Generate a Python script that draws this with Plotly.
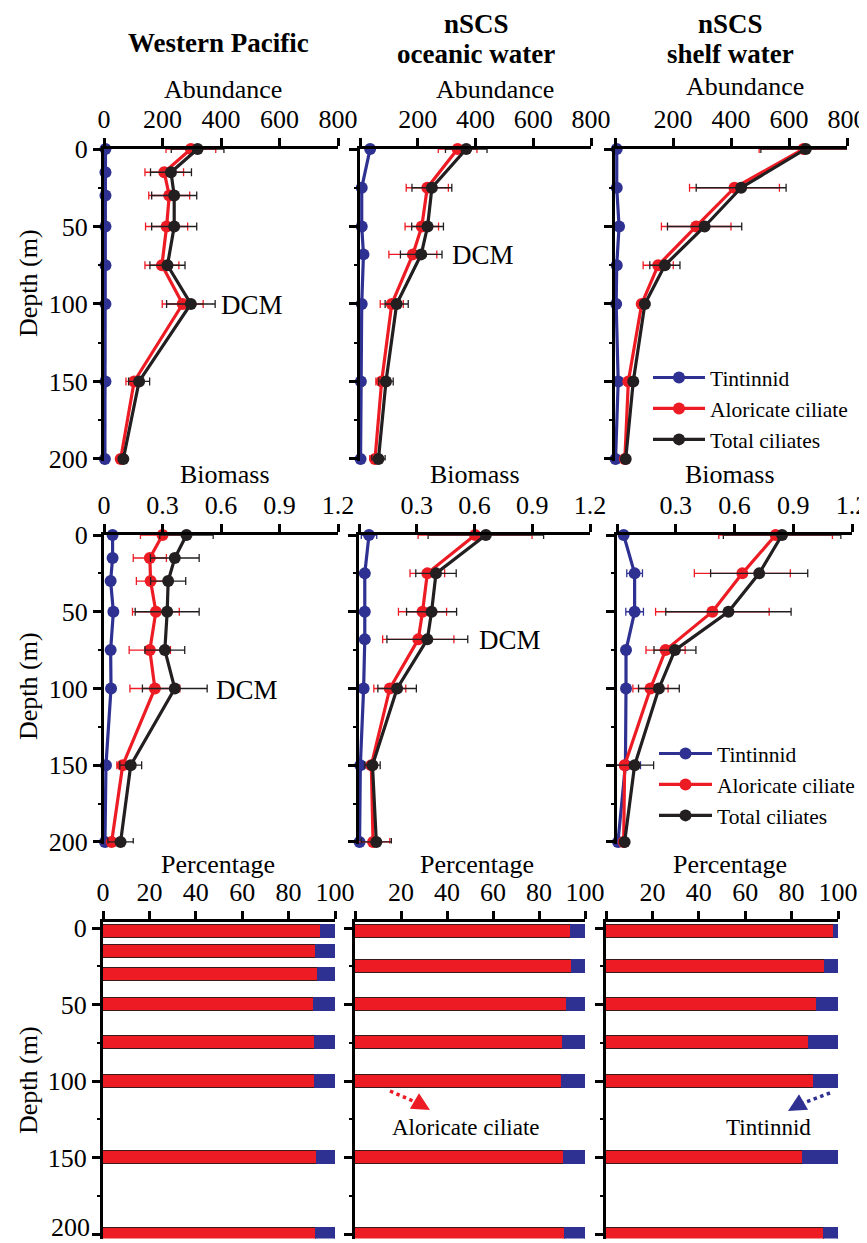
import plotly.graph_objects as go
from plotly.subplots import make_subplots

SCREEN_W, SCREEN_H = 867, 1243
OFF = 8  # default page body margin
W, H = SCREEN_W - OFF, SCREEN_H - OFF

# ---------------- data ----------------
depth_wp = [0, 15, 30, 50, 75, 100, 150, 200]
depth_oc = [0, 25, 50, 68, 100, 150, 200]
depth_sh = [0, 25, 50, 75, 100, 150, 200]

# Abundance
tin_ab_wp = [5, 5, 5, 5, 5, 5, 5, 3]
alo_ab_wp = [297, 206, 223, 214, 198, 269, 103, 57]
tot_ab_wp = [320, 229, 240, 240, 217, 297, 120, 66]
alo_ab_wp_err = [85, 66, 70, 72, 58, 70, 28, 8]
tot_ab_wp_err = [90, 70, 77, 77, 60, 83, 36, 10]

tin_ab_oc = [35, 6, 6, 12, 6, 3, 2]
alo_ab_oc = [338, 233, 214, 183, 110, 75, 52]
tot_ab_oc = [368, 249, 234, 212, 127, 90, 64]
alo_ab_oc_err = [67, 73, 58, 83, 40, 20, 18]
tot_ab_oc_err = [72, 69, 55, 72, 40, 25, 23]

tin_ab_sh = [6, 6, 14, 6, 4, 11, 2]
alo_ab_sh = [650, 412, 280, 149, 92, 46, 34]
tot_ab_sh = [658, 435, 309, 172, 103, 63, 37]
alo_ab_sh_err = [153, 155, 120, 52, 8, 10, 5]
tot_ab_sh_err = [155, 155, 128, 52, 10, 12, 5]

# Biomass
tin_bm_wp = [0.044, 0.044, 0.034, 0.048, 0.034, 0.036, 0.010, 0.005]
tin_bm_wp_err = [0.02, 0.02, 0.01, 0.02, 0.01, 0.015, 0.005, 0.01]
alo_bm_wp = [0.300, 0.235, 0.239, 0.266, 0.235, 0.261, 0.096, 0.039]
alo_bm_wp_err = [0.113, 0.085, 0.073, 0.120, 0.106, 0.128, 0.030, 0.010]
tot_bm_wp = [0.423, 0.363, 0.329, 0.324, 0.312, 0.363, 0.137, 0.085]
tot_bm_wp_err = [0.137, 0.125, 0.090, 0.164, 0.102, 0.166, 0.056, 0.065]

tin_bm_oc = [0.052, 0.030, 0.030, 0.030, 0.024, 0.007, 0.003]
tin_bm_oc_err = [0.04, 0.01, 0.01, 0.01, 0.015, 0.01, 0.005]
alo_bm_oc = [0.603, 0.355, 0.330, 0.308, 0.160, 0.064, 0.073]
alo_bm_oc_err = [0.296, 0.090, 0.125, 0.185, 0.083, 0.020, 0.087]
tot_bm_oc = [0.659, 0.400, 0.377, 0.355, 0.198, 0.070, 0.090]
tot_bm_oc_err = [0.300, 0.105, 0.130, 0.210, 0.100, 0.040, 0.078]

tin_bm_sh = [0.034, 0.090, 0.090, 0.046, 0.046, 0.043, 0.005]
tin_bm_sh_err = [0.005, 0.040, 0.045, 0.010, 0.010, 0.077, 0.010]
alo_bm_sh = [0.810, 0.640, 0.487, 0.248, 0.171, 0.039, 0.034]
alo_bm_sh_err = [0.290, 0.245, 0.290, 0.100, 0.090, 0.020, 0.010]
tot_bm_sh = [0.843, 0.726, 0.569, 0.296, 0.214, 0.090, 0.039]
tot_bm_sh_err = [0.300, 0.248, 0.320, 0.107, 0.104, 0.097, 0.010]

# Percentage
pct_depth_wp = [2.5, 15, 30, 50, 75, 100, 150, 200]
pct_depth_oc = [2.5, 25, 50, 75, 100, 150, 200]
pct_depth_sh = [2.5, 25, 50, 75, 100, 150, 200]
alo_pct_wp = [93.8, 91.8, 92.8, 91.0, 91.2, 91.4, 92.1, 91.8]
tin_pct_wp = [6.2, 8.2, 7.2, 9.0, 8.8, 8.6, 7.9, 8.2]
alo_pct_oc = [94.0, 94.4, 92.3, 90.6, 90.1, 91.0, 91.4]
tin_pct_oc = [6.0, 5.6, 7.7, 9.4, 9.9, 9.0, 8.6]
alo_pct_sh = [98.3, 94.5, 91.0, 87.4, 89.5, 84.9, 94.1]
tin_pct_sh = [1.7, 5.5, 9.0, 12.6, 10.5, 15.1, 5.9]

col_title_lines = [["Western Pacific"], ["nSCS", "oceanic water"], ["nSCS", "shelf water"]]
row_titles = ["Abundance", "Biomass", "Percentage"]
series_names = ["Tintinnid", "Aloricate ciliate", "Total ciliates"]
depth_ticks = [0, 50, 100, 150, 200]
depth_ticktext = ["0", "50", "100", "150", "200"]

BLUE = "#2E3192"
RED = "#ED1C24"
BLACK = "#231F20"
FONT = "Liberation Serif, Times New Roman, serif"

def px(x):
    return (x - OFF) / W

def py(y):
    return 1 - (y - OFF) / H

fig = make_subplots(rows=3, cols=3)

def add_profile(row, col, depth, tin, alo, tot, alo_err, tot_err, tin_err=None, legend=None):
    specs = [
        (series_names[0], tin, tin_err, BLUE),
        (series_names[1], alo, alo_err, RED),
        (series_names[2], tot, tot_err, BLACK),
    ]
    for name, vals, err, color in specs:
        tr = go.Scatter(
            x=vals, y=depth, mode="lines+markers", name=name,
            line=dict(color=color, width=3.2),
            marker=dict(color=color, size=12),
            cliponaxis=False,
            showlegend=legend is not None,
        )
        if legend is not None:
            tr.legend = legend
        if err is not None:
            tr.error_x = dict(type="data", array=err, visible=True, color=color,
                              thickness=1.3, width=4)
        fig.add_trace(tr, row=row, col=col)

add_profile(1, 1, depth_wp, tin_ab_wp, alo_ab_wp, tot_ab_wp, alo_ab_wp_err, tot_ab_wp_err)
add_profile(1, 2, depth_oc, tin_ab_oc, alo_ab_oc, tot_ab_oc, alo_ab_oc_err, tot_ab_oc_err)
add_profile(1, 3, depth_sh, tin_ab_sh, alo_ab_sh, tot_ab_sh, alo_ab_sh_err, tot_ab_sh_err, legend="legend")
add_profile(2, 1, depth_wp, tin_bm_wp, alo_bm_wp, tot_bm_wp, alo_bm_wp_err, tot_bm_wp_err, tin_bm_wp_err)
add_profile(2, 2, depth_oc, tin_bm_oc, alo_bm_oc, tot_bm_oc, alo_bm_oc_err, tot_bm_oc_err, tin_bm_oc_err)
add_profile(2, 3, depth_sh, tin_bm_sh, alo_bm_sh, tot_bm_sh, alo_bm_sh_err, tot_bm_sh_err, tin_bm_sh_err, legend="legend2")

for col, (d, a, t) in enumerate([(pct_depth_wp, alo_pct_wp, tin_pct_wp),
                                  (pct_depth_oc, alo_pct_oc, tin_pct_oc),
                                  (pct_depth_sh, alo_pct_sh, tin_pct_sh)], start=1):
    fig.add_trace(go.Bar(x=a, y=d, orientation="h", width=8.5, showlegend=False,
                         marker=dict(color=RED, line=dict(color="#3a1a1a", width=1))),
                  row=3, col=col)
    fig.add_trace(go.Bar(x=t, y=d, orientation="h", width=8.5, showlegend=False,
                         marker=dict(color=BLUE, line=dict(color=BLUE, width=1))),
                  row=3, col=col)

# ---------------- axes ----------------
xdom = {
    1: [(104, 338), (360, 591), (615, 847)],
    2: [(104, 338), (359, 590), (617, 852)],
    3: [(103, 335), (355, 585), (606, 838)],
}
ydom = {1: (149, 460.5), 2: (535, 843.5), 3: (922, 1238.6)}
xranges = {1: [0, 800], 2: [0, 1.2], 3: [0, 100]}
xticks = {
    1: [0, 200, 400, 600, 800],
    2: [0, 0.3, 0.6, 0.9, 1.2],
    3: [0, 20, 40, 60, 80, 100],
}
xticktext = {
    1: ["0", "200", "400", "600", "800"],
    2: ["0", "0.3", "0.6", "0.9", "1.2"],
    3: ["0", "20", "40", "60", "80", "100"],
}
yranges = {1: [201, 0], 2: [201, 0], 3: [203, -4]}

for r in (1, 2, 3):
    for c in (1, 2, 3):
        x0, x1 = xdom[r][c - 1]
        y0, y1 = ydom[r]
        ttext = list(xticktext[r])
        if c > 1:
            ttext[0] = ""
        ytext = list(depth_ticktext)
        if r == 3:
            ytext[-1] = ""  # bottom-most label drawn as annotation so it stays inside the page
        fig.update_xaxes(
            row=r, col=c, domain=[px(x0), px(x1)], range=xranges[r], side="top",
            showline=True, linecolor="black", linewidth=3, showgrid=False, zeroline=False,
            ticks="outside", ticklen=8, tickwidth=3, tickcolor="black",
            tickvals=xticks[r], ticktext=ttext, automargin=False, ticklabeloverflow="allow",
            tickfont=dict(family=FONT, size=26, color="black"),
        )
        fig.update_yaxes(
            row=r, col=c, domain=[py(y1), py(y0)], range=yranges[r],
            showline=True, linecolor="black", linewidth=3, showgrid=False, zeroline=False,
            ticks="outside", ticklen=8, tickwidth=3, tickcolor="black",
            tickvals=depth_ticks, ticktext=ytext, showticklabels=(c == 1), automargin=False,
            ticklabeloverflow="allow",
            tickfont=dict(family=FONT, size=26, color="black"),
            minor=dict(ticks="outside", ticklen=3, tickwidth=2, tickcolor="black",
                       tickvals=[25, 75, 125, 175]),
        )

# ---------------- annotations ----------------
ann = []
col_centers = [218, 476, 730]
for i, lines in enumerate(col_title_lines):
    if len(lines) == 1:
        ann.append(dict(x=px(col_centers[i]), y=py(43), xref="paper", yref="paper",
                        text="<b>" + lines[0] + "</b>", showarrow=False,
                        font=dict(family=FONT, size=27, color="black"),
                        xanchor="center", yanchor="middle"))
    else:
        ann.append(dict(x=px(col_centers[i]), y=1.0, xref="paper", yref="paper",
                        text="<b>" + lines[0] + "</b>", showarrow=False,
                        font=dict(family=FONT, size=27, color="black"),
                        xanchor="center", yanchor="top", borderpad=0))
        ann.append(dict(x=px(col_centers[i]), y=py(54), xref="paper", yref="paper",
                        text="<b>" + lines[1] + "</b>", showarrow=False,
                        font=dict(family=FONT, size=27, color="black"),
                        xanchor="center", yanchor="middle"))
sub_pos = [
    [(223, 89), (495, 89), (745, 87)],
    [(225, 474), (475, 474), (730, 474)],
    [(218, 864), (477, 864), (730, 864)],
]
for r in range(3):
    for c in range(3):
        xx, yy = sub_pos[r][c]
        ann.append(dict(x=px(xx), y=py(yy), xref="paper", yref="paper", text=row_titles[r],
                        showarrow=False, font=dict(family=FONT, size=26, color="black"),
                        xanchor="center", yanchor="middle"))
for yy in (283, 686, 1080):
    ann.append(dict(x=px(28), y=py(yy), xref="paper", yref="paper", text="Depth (m)",
                    textangle=-90, showarrow=False, font=dict(family=FONT, size=26, color="black"),
                    xanchor="center", yanchor="middle"))
# bottom depth label of the percentage row
ann.append(dict(x=px(91), y=0.0, xref="paper", yref="paper", text=depth_ticktext[-1],
                showarrow=False, font=dict(family=FONT, size=26, color="black"),
                xanchor="right", yanchor="bottom", borderpad=0))
for xx, yy in [(252, 305), (483, 255), (247, 690), (510, 640)]:
    ann.append(dict(x=px(xx), y=py(yy), xref="paper", yref="paper", text="DCM",
                    showarrow=False, font=dict(family=FONT, size=27, color="black"),
                    xanchor="center", yanchor="middle"))
ann.append(dict(x=px(466), y=py(1127), xref="paper", yref="paper", text="Aloricate ciliate",
                showarrow=False, font=dict(family=FONT, size=23, color="black"),
                xanchor="center", yanchor="middle"))
ann.append(dict(x=px(768), y=py(1127), xref="paper", yref="paper", text="Tintinnid",
                showarrow=False, font=dict(family=FONT, size=23, color="black"),
                xanchor="center", yanchor="middle"))
# arrow heads
ann.append(dict(x=px(430), y=py(1110), xref="paper", yref="paper", ax=-12, ay=-7,
                text="", showarrow=True, arrowhead=2,
                arrowsize=1.2, arrowwidth=3, arrowcolor=RED))
ann.append(dict(x=px(788), y=py(1111), xref="paper", yref="paper", ax=12, ay=-7,
                text="", showarrow=True, arrowhead=2,
                arrowsize=1.2, arrowwidth=3, arrowcolor=BLUE))

shapes = [
    dict(type="line", xref="paper", yref="paper", x0=px(390), y0=py(1091), x1=px(420), y1=py(1104),
         line=dict(color=RED, width=3.5, dash="dot")),
    dict(type="line", xref="paper", yref="paper", x0=px(830), y0=py(1093), x1=px(798), y1=py(1105),
         line=dict(color=BLUE, width=3.5, dash="dot")),
]

fig.update_layout(
    width=W, height=H, margin=dict(l=0, r=0, t=0, b=0, pad=0, autoexpand=False),
    paper_bgcolor="white", plot_bgcolor="white",
    barmode="stack", bargap=0,
    annotations=ann, shapes=shapes,
    font=dict(family=FONT, color="black"),
    legend=dict(x=px(648), y=py(357), xanchor="left", yanchor="top", traceorder="normal",
                font=dict(family=FONT, size=21.5, color="black"),
                bgcolor="rgba(0,0,0,0)", tracegroupgap=0, itemwidth=52),
    legend2=dict(x=px(654), y=py(733), xanchor="left", yanchor="top", traceorder="normal",
                 font=dict(family=FONT, size=21.5, color="black"),
                 bgcolor="rgba(0,0,0,0)", tracegroupgap=0, itemwidth=53),
)

fig.write_html("out.html")
